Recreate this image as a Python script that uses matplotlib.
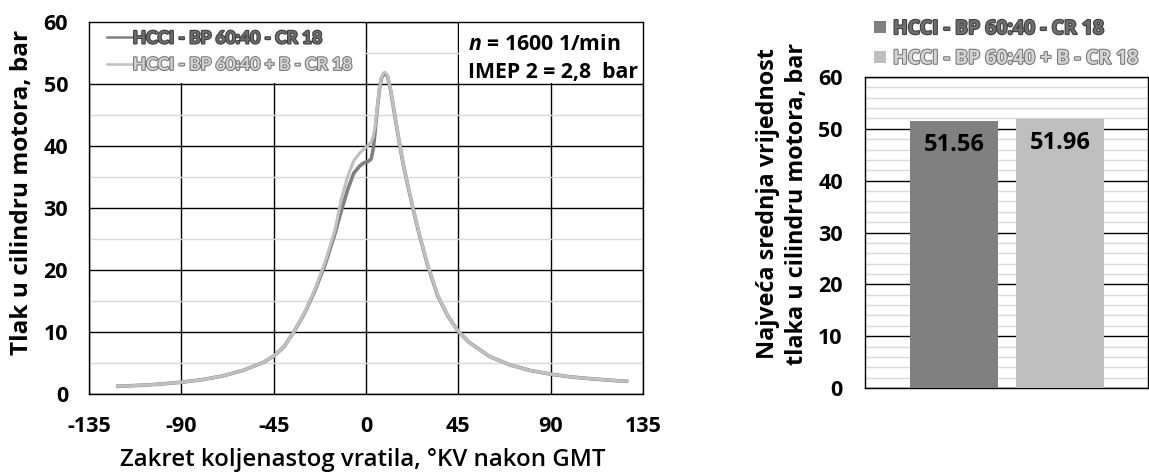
import matplotlib
matplotlib.use("Agg")
import matplotlib.pyplot as plt
import matplotlib.patheffects as pe
from matplotlib.patches import Rectangle, Patch
from matplotlib.lines import Line2D
from matplotlib.ticker import MultipleLocator

FONT = 'Open Sans'
plt.rcParams['font.family'] = [FONT, 'DejaVu Sans']
plt.rcParams['font.weight'] = 'bold'
plt.rcParams['axes.labelweight'] = 'bold'
plt.rcParams['axes.unicode_minus'] = False
plt.rcParams['mathtext.fontset'] = 'custom'
plt.rcParams['mathtext.it'] = FONT + ':italic:bold'
plt.rcParams['mathtext.rm'] = FONT + ':bold'

# ---------------- data ----------------
series_names = ["HCCI - BP 60:40 - CR 18", "HCCI - BP 60:40 + B - CR 18"]

angle = [-121, -110, -100, -90, -80, -70, -60, -50, -45, -40, -35, -30, -25,
         -20, -15, -12, -9, -6, -3, -1, 1, 2.5, 3.5, 4.5, 5.5, 6.5, 7.5, 8.5,
         9.3, 10.5, 12, 14, 16, 18, 20, 23, 26, 30, 35, 40, 45, 50, 60, 70,
         80, 90, 100, 110, 120, 127]

p_dark = [1.25, 1.4, 1.6, 1.9, 2.3, 2.9, 3.8, 5.1, 6.1, 7.6, 10.1, 13.0, 16.6,
          20.8, 26.0, 29.6, 32.9, 35.6, 36.8, 37.3, 37.5, 37.9, 39.5, 42.5,
          46.0, 49.0, 50.9, 51.6, 51.7, 51.2, 49.0, 45.0, 41.0, 37.3, 34.2,
          29.8, 25.7, 20.8, 15.8, 12.5, 10.1, 8.4, 6.1, 4.7, 3.8, 3.2, 2.75,
          2.45, 2.2, 2.05]

p_light = [1.25, 1.4, 1.6, 1.9, 2.3, 2.9, 3.8, 5.1, 6.1, 7.6, 10.1, 13.1, 16.8,
           21.2, 26.6, 31.5, 35.0, 37.6, 38.9, 39.5, 40.1, 40.6, 41.5, 43.3,
           46.3, 49.2, 51.1, 51.8, 51.9, 51.4, 49.1, 45.1, 41.1, 37.4, 34.3,
           29.9, 25.8, 20.9, 15.9, 12.5, 10.1, 8.4, 6.1, 4.7, 3.8, 3.2, 2.75,
           2.45, 2.2, 2.05]

bar_values = [51.56, 51.96]
bar_labels = ["51.56", "51.96"]

x_ticks = [-135, -90, -45, 0, 45, 90, 135]
y_ticks = [0, 10, 20, 30, 40, 50, 60]

c_dark = "#808080"
c_light = "#c0c0c0"
fills = ["#6e6e6e", "#d4d4d4"]
outlines = ["#404040", "#7a7a7a"]

fig = plt.figure(figsize=(11.49, 4.73), dpi=100)

# ---------------- left chart ----------------
ax = fig.add_axes([89/1149, 1-394/473, (643-89)/1149, (394-22)/473])
ax.set_xlim(-135, 135)
ax.set_ylim(0, 60)
ax.set_xticks(x_ticks)
ax.set_yticks(y_ticks)
ax.yaxis.set_minor_locator(MultipleLocator(5))
ax.grid(which='major', color='black', lw=1.0, zorder=0)
ax.grid(which='minor', axis='y', color='#d9d9d9', lw=1.0, zorder=0)
ax.set_axisbelow(True)
ax.tick_params(which='both', length=0, labelsize=15.5)
ax.tick_params(axis='y', pad=15)
ax.tick_params(axis='x', pad=16)
for s in ax.spines.values():
    s.set_color('black'); s.set_linewidth(1.0)

ax.add_patch(Rectangle((-135, 50.2), 134.6, 9.8, facecolor='white',
                       edgecolor='none', zorder=1))
ax.add_patch(Rectangle((45.5, 50.2), 89.5, 9.8, facecolor='white',
                       edgecolor='none', zorder=1))

ax.plot(angle, p_dark, color=c_dark, lw=2.6, zorder=3)
ax.plot(angle, p_light, color=c_light, lw=2.2, zorder=4)

ax.set_xlabel("Zakret koljenastog vratila, °KV nakon GMT", fontsize=17.3,
              fontweight=600)
ax.xaxis.label.set_va('center')
ax.xaxis.set_label_coords(0.4946, -0.1774)
ax.set_ylabel("Tlak u cilindru motora, bar", fontsize=17.6)
ax.yaxis.label.set_va('center')
ax.yaxis.set_label_coords(-0.121, 0.5417)

handles = [Line2D([], [], color=c_dark, lw=1.8),
           Line2D([], [], color=c_light, lw=1.8)]
leg = ax.legend(handles, series_names, loc='upper left', frameon=False,
                bbox_to_anchor=(0.01, 1.01), handlelength=1.45,
                prop={'family': 'Lato', 'weight': 'bold', 'size': 12.5},
                handletextpad=0.05, labelspacing=0.6, borderaxespad=0.3)
leg.set_zorder(5)
for t, f, o in zip(leg.get_texts(), fills, outlines):
    t.set_color(f)
    t.set_path_effects([pe.Stroke(linewidth=1.6, foreground=o), pe.Normal()])

ax.text(49.5, 56.3, r"$n$ = 1600 1/min", fontsize=15.3, va='center',
        ha='left', zorder=6)
ax.text(49.5, 51.8, "IMEP 2 = 2,8  bar", fontsize=15.3, va='center',
        ha='left', zorder=6)

# ---------------- right chart ----------------
ax2 = fig.add_axes([865/1149, 1-388/473, (1148-865)/1149, (388-77)/473])
pos = list(range(len(bar_values)))
bars = ax2.bar(pos, bar_values, width=0.83, color=[c_dark, "#bfbfbf"],
               zorder=3)
ax2.set_xlim(-0.84, 1.83)
ax2.set_ylim(0, 60)
ax2.set_yticks(y_ticks)
ax2.yaxis.set_minor_locator(MultipleLocator(2))
ax2.set_xticks([])
ax2.grid(which='major', axis='y', color='black', lw=1.0, zorder=0)
ax2.grid(which='minor', axis='y', color='#d9d9d9', lw=1.0, zorder=0)
ax2.set_axisbelow(True)
ax2.tick_params(which='both', length=0, labelsize=15.5, pad=16)
for s in ax2.spines.values():
    s.set_color('black'); s.set_linewidth(1.0)

for b, lab in zip(bars, bar_labels):
    ax2.annotate(lab, (b.get_x() + b.get_width()/2, b.get_height()),
                 xytext=(0, -9), textcoords='offset points', ha='center',
                 va='top', fontsize=17, zorder=5)

ax2.set_ylabel("Najveća srednja vrijednost\ntlaka u cilindru motora, bar",
               fontsize=16.8, linespacing=1.3)
ax2.yaxis.label.set_va('center')
ax2.yaxis.set_label_coords(-0.2915, 0.592)

h2 = [Patch(facecolor=c_dark), Patch(facecolor="#bfbfbf")]
leg2 = fig.legend(h2, series_names, loc='upper left', frameon=False,
                  bbox_to_anchor=(874/1149, 1-19/473), fontsize=14.0,
                  handlelength=0.62, handleheight=0.62, handletextpad=0.35,
                  labelspacing=0.5, borderaxespad=0, borderpad=0)
for t, f, o in zip(leg2.get_texts(), fills, outlines):
    t.set_color(f)
    t.set_path_effects([pe.Stroke(linewidth=1.6, foreground=o), pe.Normal()])

fig.savefig("out.png", dpi=100)
